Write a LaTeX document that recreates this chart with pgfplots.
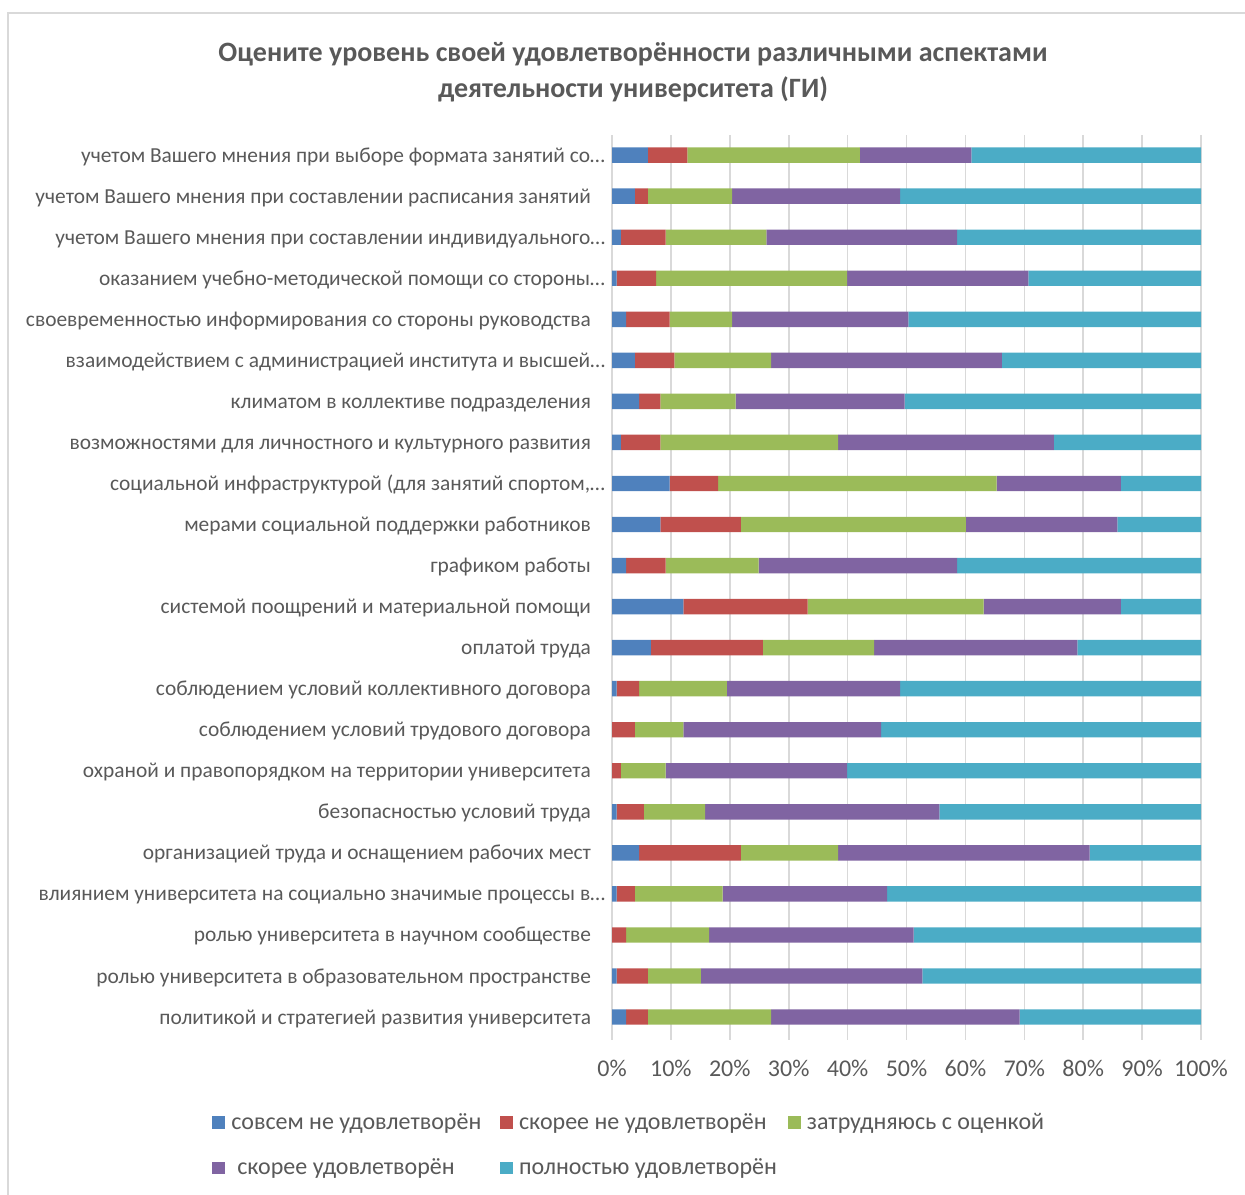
\documentclass[border=0pt]{standalone}
\usepackage{fontspec}
\setmainfont{Carlito}
\usepackage{pgfplots}
\usepackage{pgfplotstable}
\pgfplotsset{compat=1.18}

\definecolor{cA}{HTML}{4F81BD}
\definecolor{cB}{HTML}{C0504D}
\definecolor{cC}{HTML}{9BBB59}
\definecolor{cD}{HTML}{8064A2}
\definecolor{cE}{HTML}{4BACC6}
\definecolor{txt}{HTML}{595959}
\definecolor{grd}{HTML}{D9D9D9}

% idx: 0 = top row
\pgfplotstableread{
idx a    b    c    d    e
0   6.1  6.7  29.3 18.9 39.0
1   3.9  2.2  14.3 28.5 51.1
2   1.5  7.6  17.1 32.4 41.4
3   0.8  6.7  32.4 30.8 29.3
4   2.4  7.4  10.6 29.9 49.7
5   3.9  6.7  16.4 39.2 33.8
6   4.6  3.6  12.8 28.7 50.3
7   1.5  6.7  30.2 36.6 25.0
8   9.8  8.2  47.3 21.1 13.6
9   8.2  13.7 38.2 25.7 14.2
10  2.4  6.7  15.8 33.7 41.4
11  12.1 21.1 29.9 23.3 13.6
12  6.6  19.0 18.9 34.5 21.0
13  0.8  3.8  14.9 29.4 51.1
14  0    3.9  8.2  33.6 54.3
15  0    1.5  7.6  30.8 60.1
16  0.8  4.6  10.4 39.8 44.4
17  4.6  17.3 16.5 42.7 18.9
18  0.8  3.1  14.9 27.9 53.3
19  0    2.4  14.1 34.7 48.8
20  0.8  5.3  9.0  37.6 47.3
21  2.4  3.7  20.9 42.2 30.8
}\satisf

\newcommand{\trail}{\hspace*{7pt}}
\newcommand{\lgbox}[1]{\hspace*{3pt}\makebox[134.5pt][l]{#1}}

\begin{document}
\begin{tikzpicture}
\path[use as bounding box] (0,0) rectangle (622.5pt,-597pt);
\draw[grd, line width=1pt] (4pt,-700pt) -- (4pt,-6.5pt) -- (700pt,-6.5pt);
\node[txt, font=\bfseries\fontsize{14}{18}\selectfont, align=center] at (316.5pt,-36pt)
  {Оцените уровень своей удовлетворённости различными аспектами\\деятельности университета (ГИ)};
\begin{axis}[
    at={(306pt,-520pt)}, anchor=south west,
    scale only axis,
    width=294.5pt, height=452.5pt,
    xbar stacked,
    bar width=7.7pt,
    xmin=0, xmax=100,
    ymin=-0.49, ymax=21.56,
    y dir=reverse,
    axis line style={draw=none},
    major tick length=0pt,
    xtick={0,10,...,100},
    xticklabel={\pgfmathprintnumber{\tick}\%},
    /pgf/number format/assume math mode=true,
    xmajorgrids,
    grid style={grd, line width=0.8pt},
    xticklabel style={txt, font=\fontsize{12}{14}\selectfont, yshift=-6.5pt},
    ytick={0,...,21},
    yticklabels={
      {учетом Вашего мнения при выборе формата занятий со…},
      {учетом Вашего мнения при составлении расписания занятий\trail},
      {учетом Вашего мнения при составлении индивидуального…},
      {оказанием учебно-методической помощи со стороны…},
      {своевременностью информирования со стороны руководства\trail},
      {взаимодействием с администрацией института и высшей…},
      {климатом в коллективе подразделения\trail},
      {возможностями для личностного и культурного развития\trail},
      {социальной инфраструктурой (для занятий спортом,…},
      {мерами социальной поддержки работников\trail},
      {графиком работы\trail},
      {системой поощрений и материальной помощи\trail},
      {оплатой труда\trail},
      {соблюдением условий коллективного договора\trail},
      {соблюдением условий трудового договора\trail},
      {охраной и правопорядком на территории университета\trail},
      {безопасностью условий труда\trail},
      {организацией труда и оснащением рабочих мест\trail},
      {влиянием университета на социально значимые процессы в…},
      {ролью университета в научном сообществе\trail},
      {ролью университета в образовательном пространстве\trail},
      {политикой и стратегией развития университета\trail}
    },
    yticklabel style={txt, font=\fontsize{10.7}{12}\selectfont, anchor=east,
      text height=0.7em, text depth=0.2em, yshift=-1pt},
    legend columns=3,
    legend style={at={(-0.679,-0.0805)}, anchor=north west, draw=none,
      inner sep=0pt, row sep=13pt,
      nodes={inner sep=0pt, text=txt, font=\fontsize{12}{14}\selectfont}},
    legend cell align=left,
    legend image code/.code={\fill[#1] (0pt,-3.2pt) rectangle (6.4pt,3.2pt);},
]
\addplot[fill=cA, draw=none] table[x=a, y=idx] {\satisf};
\addlegendentry{\lgbox{совсем не удовлетворён}}
\addplot[fill=cB, draw=none] table[x=b, y=idx] {\satisf};
\addlegendentry{\lgbox{скорее не удовлетворён}}
\addplot[fill=cC, draw=none] table[x=c, y=idx] {\satisf};
\addlegendentry{\lgbox{затрудняюсь с оценкой}}
\addplot[fill=cD, draw=none] table[x=d, y=idx] {\satisf};
\addlegendentry{\lgbox{\hspace*{3pt}скорее удовлетворён}}
\addplot[fill=cE, draw=none] table[x=e, y=idx] {\satisf};
\addlegendentry{\lgbox{полностью удовлетворён}}
\end{axis}
\end{tikzpicture}
\end{document}
